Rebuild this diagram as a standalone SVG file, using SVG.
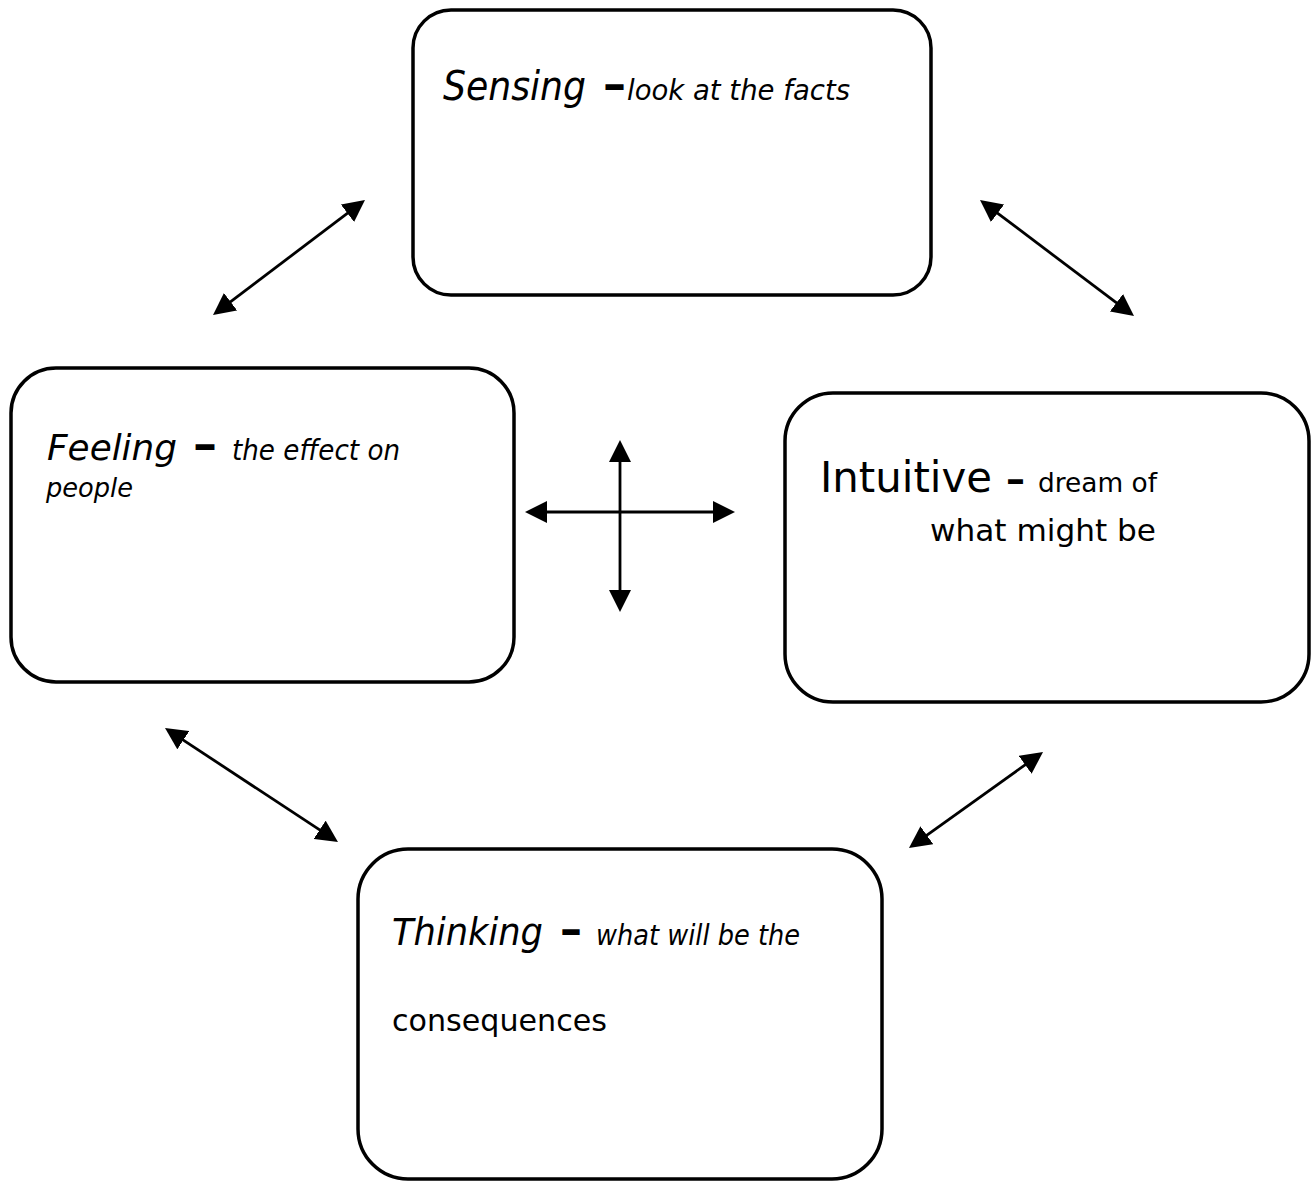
<svg xmlns="http://www.w3.org/2000/svg" width="1313" height="1182" viewBox="0 0 1313 1182">
  <style>
    .box { fill: #ffffff; stroke: #000000; stroke-width: 3.5; }
    .link { stroke: #000000; stroke-width: 2.8; fill: none; marker-start: url(#head); marker-end: url(#head); }
    text { font-family: "DejaVu Sans", Verdana, sans-serif; fill: #000000; }
    .it { font-style: italic; }
    .dash { font-weight: bold; }
  </style>
  <defs>
    <marker id="head" viewBox="0 0 22 22" refX="11" refY="11" markerWidth="22" markerHeight="22" markerUnits="userSpaceOnUse" orient="auto-start-reverse">
      <path d="M0,0 L22,11 L0,22 z" fill="#000000"/>
    </marker>
  </defs>

  <g id="connectors">
    <line class="link" x1="221.8" y1="308.4" x2="356.2" y2="206.6"/>
    <line class="link" x1="988.8" y1="206.6" x2="1125.2" y2="309.4"/>
    <line class="link" x1="174.2" y1="734.1" x2="328.8" y2="835.9"/>
    <line class="link" x1="1034.1" y1="758.4" x2="917.9" y2="841.6"/>
    <line class="link" x1="536" y1="512" x2="724" y2="512"/>
    <line class="link" x1="620" y1="451" x2="620" y2="601"/>
  </g>

  <g id="sensing">
    <rect class="box" x="413" y="10" width="518" height="285" rx="38" ry="38"/>
    <text class="it" x="443" y="100" font-size="40" textLength="143" lengthAdjust="spacingAndGlyphs">Sensing</text>
    <text class="dash" x="603" y="100" font-size="46" textLength="23" lengthAdjust="spacingAndGlyphs">–</text>
    <text class="it" x="627" y="100" font-size="29" textLength="223" lengthAdjust="spacingAndGlyphs">look at the facts</text>
  </g>

  <g id="feeling">
    <rect class="box" x="11" y="368" width="503" height="314" rx="45" ry="45"/>
    <text class="it" x="47" y="460" font-size="36" textLength="130" lengthAdjust="spacingAndGlyphs">Feeling</text>
    <text class="dash" x="193" y="460" font-size="46" textLength="24" lengthAdjust="spacingAndGlyphs">–</text>
    <text class="it" x="232" y="460" font-size="28" textLength="168" lengthAdjust="spacingAndGlyphs">the effect on</text>
    <text class="it" x="46" y="497" font-size="27" textLength="87" lengthAdjust="spacingAndGlyphs">people</text>
  </g>

  <g id="intuitive">
    <rect class="box" x="785" y="393" width="524" height="309" rx="48" ry="48"/>
    <text x="820" y="492" font-size="42" textLength="172" lengthAdjust="spacingAndGlyphs">Intuitive</text>
    <text class="dash" x="1006" y="492" font-size="38" textLength="19" lengthAdjust="spacingAndGlyphs">–</text>
    <text x="1038" y="492" font-size="27" textLength="119" lengthAdjust="spacingAndGlyphs">dream of</text>
    <text x="930" y="541" font-size="31" textLength="226" lengthAdjust="spacingAndGlyphs">what might be</text>
  </g>

  <g id="thinking">
    <rect class="box" x="358" y="849" width="524" height="330" rx="50" ry="50"/>
    <text class="it" x="392" y="945" font-size="37" textLength="151" lengthAdjust="spacingAndGlyphs">Thinking</text>
    <text class="dash" x="560" y="945" font-size="46" textLength="22" lengthAdjust="spacingAndGlyphs">–</text>
    <text class="it" x="596" y="945" font-size="28" textLength="204" lengthAdjust="spacingAndGlyphs">what will be the</text>
    <text x="392" y="1031" font-size="31" textLength="215" lengthAdjust="spacingAndGlyphs">consequences</text>
  </g>
</svg>
